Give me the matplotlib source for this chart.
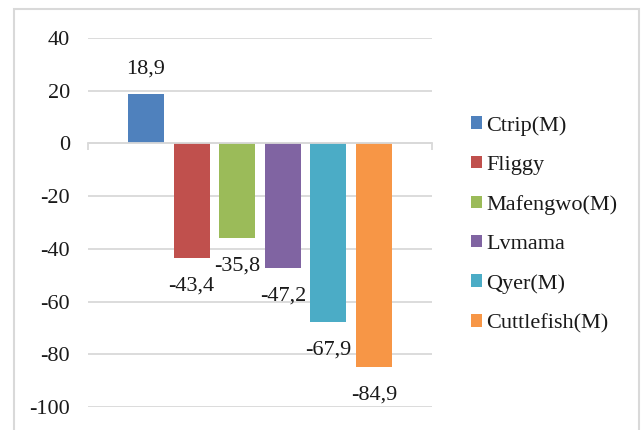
import matplotlib.pyplot as plt
from matplotlib.patches import Rectangle

plt.rcParams["font.family"] = ["Liberation Serif", "DejaVu Serif"]

sites = ["Ctrip(M)", "Fliggy", "Mafengwo(M)", "Lvmama", "Qyer(M)", "Cuttlefish(M)"]
growth = [18.9, -43.4, -35.8, -47.2, -67.9, -84.9]
colors = ["#4F81BD", "#C0504D", "#9BBB59", "#8064A2", "#4BACC6", "#F79646"]
yticks = [-100, -80, -60, -40, -20, 0, 20, 40]

fig = plt.figure(figsize=(6.43, 4.3), dpi=100)
ax = fig.add_axes([0.1369, 0.0535, 0.535, 0.858])

handles = []
for i, (name, v, c) in enumerate(zip(sites, growth, colors)):
    b = ax.bar(i, v, width=0.79, color=c, label=name, zorder=3)
    handles.append(b)
    txt = f"{v:.1f}".replace(".", ",")
    off = 17.5 if v > 0 else -20
    ax.annotate(txt, (i, v), xytext=(0, off), textcoords="offset points",
                ha="center", va="center", fontsize=16, color="#1a1a1a")

ax.set_xlim(-1.27, 6.27)
ax.set_ylim(-100, 40)
ax.set_yticks(yticks)
ax.set_yticklabels([str(t) for t in yticks], fontsize=16, color="#1a1a1a")
ax.tick_params(axis="y", length=0, pad=13)
ax.grid(axis="y", color="#d9d9d9", linewidth=1.3, zorder=0)
for s in ["top", "right", "left"]:
    ax.spines[s].set_visible(False)
ax.spines["bottom"].set_position(("data", 0))
ax.spines["bottom"].set_color("#d9d9d9")
ax.spines["bottom"].set_linewidth(1.3)
ax.spines["bottom"].set_zorder(4)
ax.set_xticks([-1.27, 6.27])
ax.set_xticklabels(["", ""])
ax.tick_params(axis="x", direction="out", length=5, color="#d9d9d9", width=1.3)

fig.legend(handles=handles, labels=sites, loc="upper left",
           bbox_to_anchor=(462 / 643, 1 - 107 / 430), frameon=False,
           fontsize=16, handlelength=0.5, handleheight=0.5,
           handletextpad=0.2, labelspacing=0.9, borderaxespad=0,
           labelcolor="#1a1a1a")

fig.patches.append(Rectangle((14 / 643, -0.01), 625 / 643, 0.989,
                             transform=fig.transFigure, fill=False,
                             edgecolor="#d9d9d9", linewidth=1.5))

fig.savefig("out.png", dpi=100)
